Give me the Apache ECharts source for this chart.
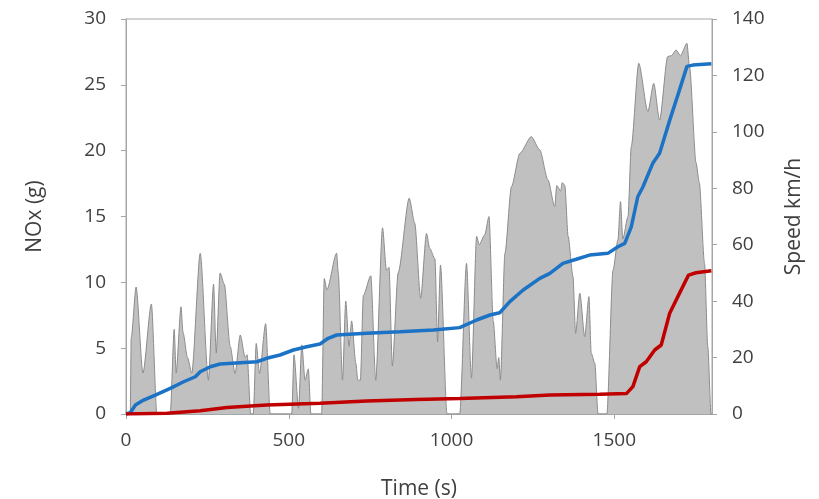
<!DOCTYPE html>
<html>
<head>
<meta charset="utf-8">
<title>NOx vs speed</title>
<script src="https://cdn.jsdelivr.net/npm/echarts@6/dist/echarts.min.js"></script>
<style>
	html, body{
		margin: 0;
		padding: 0;
		background-color: white;
	}
	#noxChart{
		width: 819px;
		height: 499px;
	}
</style>
</head>
<body>
<div id="noxChart"></div>
<script>
	// speed trace (km/h), right axis
	var speedT = [0, 13, 16, 31, 52, 78, 95, 136, 148, 154, 169, 175, 189, 202, 228, 253, 269, 277, 289, 302,
		320, 335, 351, 366, 372, 383, 391, 400, 410, 429, 443, 509, 516, 530, 540, 550, 560, 568, 601, 609,
		617, 647, 652, 665, 675, 685, 693, 706, 712, 720, 729, 752, 767, 788, 800, 808, 818, 836, 870, 887,
		905, 923, 933, 949, 957, 966, 986, 1025, 1046, 1061, 1077, 1085, 1102, 1115, 1128, 1140, 1145, 1150, 1164, 1184,
		1210, 1245, 1271, 1296, 1317, 1323, 1335, 1340, 1348, 1358, 1373, 1381, 1394, 1409, 1422, 1429, 1440, 1450, 1477, 1496,
		1511, 1519, 1526, 1542, 1552, 1575, 1603, 1621, 1639, 1664, 1675, 1690, 1703, 1723, 1731, 1751, 1761, 1777, 1787, 1797,
		1800];
	var speedV = [0, 0, 27, 45, 14.5, 39, 0, 0, 30, 14.5, 38, 29, 20, 14.5, 57, 12, 46, 21.6, 50, 46,
		24, 14.4, 28, 20, 21, 0, 0, 25, 14.4, 32, 0, 0, 21, 2, 24.5, 12, 16, 0, 0, 48,
		44, 57, 50, 12, 40, 24, 33, 18, 12, 12, 42, 49, 12, 66, 51, 52, 17, 50, 76.5, 67.6,
		41, 64, 58.7, 55, 25.6, 52.8, 0, 0, 53.4, 12.7, 63, 60, 63.5, 70, 33, 16, 20, 12, 57, 80.6,
		92.4, 98.3, 93.6, 83, 73.5, 81, 79, 82, 81, 63, 48.7, 28.6, 42.8, 27.4, 41.6, 21.5, 18, 0, 0, 51,
		61.7, 75.3, 62, 70, 94.8, 124.3, 107.2, 117.2, 104.2, 126.7, 127, 129, 127, 131.4, 123, 89, 82, 53.4, 24, 0,
		0];

	// cumulative NOx (g), blue
	var noxBlueT = [0, 13, 29, 54, 90, 136, 177, 213, 228, 259, 289, 351, 402, 432, 473, 514, 555, 596, 621, 647,
		739, 841, 944, 1025, 1077, 1118, 1148, 1179, 1220, 1271, 1302, 1342, 1383, 1424, 1480, 1511, 1532, 1552, 1572, 1588,
		1618, 1639, 1670, 1700, 1723, 1741, 1798];
	var noxBlueV = [0, 0.1, 0.68, 1.06, 1.44, 1.95, 2.45, 2.83, 3.21, 3.59, 3.8, 3.9, 3.97, 4.23, 4.48, 4.86, 5.11, 5.32, 5.75, 6.0,
		6.13, 6.25, 6.38, 6.56, 7.14, 7.52, 7.69, 8.53, 9.42, 10.3, 10.68, 11.44, 11.75, 12.07, 12.2, 12.7, 12.96, 14.22, 16.5, 17.26,
		19.04, 19.8, 22.3, 24.6, 26.4, 26.5, 26.6];

	// cumulative NOx (g), red
	var noxRedT = [0, 126, 228, 310, 432, 596, 739, 892, 1025, 1199, 1302, 1455, 1537, 1557, 1578, 1598, 1624, 1644, 1670, 1700,
		1728, 1751, 1798];
	var noxRedV = [0, 0.05, 0.25, 0.5, 0.68, 0.81, 0.99, 1.11, 1.17, 1.31, 1.44, 1.5, 1.55, 2.08, 3.6, 3.97, 4.86, 5.24, 7.65, 9.16,
		10.55, 10.73, 10.88];

	var xTicks = [0, 500, 1000, 1500];

	function pairs(t, v){
		var out = [];
		for(var i = 0; i < t.length; i++){
			out.push([t[i], v[i]]);
		}
		return out;
	}

	var textCol = '#404040';
	var axisCol = '#a6a6a6';
	var fnt = '"Open Sans", sans-serif';

	var myChart = echarts.init(document.getElementById('noxChart'));
	var option = {
		animation: false,
		grid: {
			left: 126,
			right: 107,
			top: 19,
			bottom: 85,
			outerBoundsMode: 'none',
			show: true,
			borderColor: axisCol,
			borderWidth: 1
		},
		xAxis: {
			type: 'value',
			min: 0,
			max: 1800,
			interval: 500,
			name: 'Time (s)',
			nameLocation: 'middle',
			nameGap: 65,
			nameTextStyle: { fontSize: 21, color: textCol, fontFamily: fnt },
			axisLine: { lineStyle: { color: axisCol } },
			axisTick: { show: true, length: 5, customValues: xTicks, lineStyle: { color: axisCol } },
			axisLabel: {
				customValues: xTicks,
				margin: 17,
				fontSize: 19,
				color: textCol,
				fontFamily: fnt,
				formatter: function(v){ return String(v); }
			},
			splitLine: { show: false }
		},
		yAxis: [
			{
				type: 'value',
				min: 0,
				max: 30,
				interval: 5,
				name: 'NOx (g)',
				nameLocation: 'middle',
				nameGap: 80,
				nameTextStyle: { fontSize: 21, color: textCol, fontFamily: fnt },
				axisLine: { show: true, lineStyle: { color: axisCol } },
				axisTick: { show: true, length: 5, lineStyle: { color: axisCol } },
				axisLabel: { margin: 20, fontSize: 19, color: textCol, fontFamily: fnt },
				splitLine: { show: false }
			},
			{
				type: 'value',
				min: 0,
				max: 140,
				interval: 20,
				position: 'right',
				name: 'Speed km/h',
				nameLocation: 'middle',
				nameGap: 72,
				nameTextStyle: { fontSize: 21, color: textCol, fontFamily: fnt },
				axisLine: { show: true, lineStyle: { color: axisCol } },
				axisTick: { show: true, length: 5, lineStyle: { color: axisCol } },
				axisLabel: { margin: 20, fontSize: 19, color: textCol, fontFamily: fnt },
				splitLine: { show: false }
			}
		],
		series: [
			{
				name: 'Speed',
				type: 'line',
				yAxisIndex: 1,
				data: pairs(speedT, speedV),
				showSymbol: false,
				smooth: 0.25,
				smoothMonotone: 'x',
				lineStyle: { color: '#8c8c8c', width: 1 },
				areaStyle: { color: '#c0c0c0', opacity: 1 },
				z: 1
			},
			{
				name: 'NOx A',
				type: 'line',
				yAxisIndex: 0,
				data: pairs(noxBlueT, noxBlueV),
				showSymbol: false,
				lineStyle: { color: '#1c72c4', width: 3.5 },
				z: 3
			},
			{
				name: 'NOx B',
				type: 'line',
				yAxisIndex: 0,
				data: pairs(noxRedT, noxRedV),
				showSymbol: false,
				lineStyle: { color: '#c00000', width: 3.5 },
				z: 3
			}
		]
	};

	option && myChart.setOption(option);
</script>
</body>
</html>
